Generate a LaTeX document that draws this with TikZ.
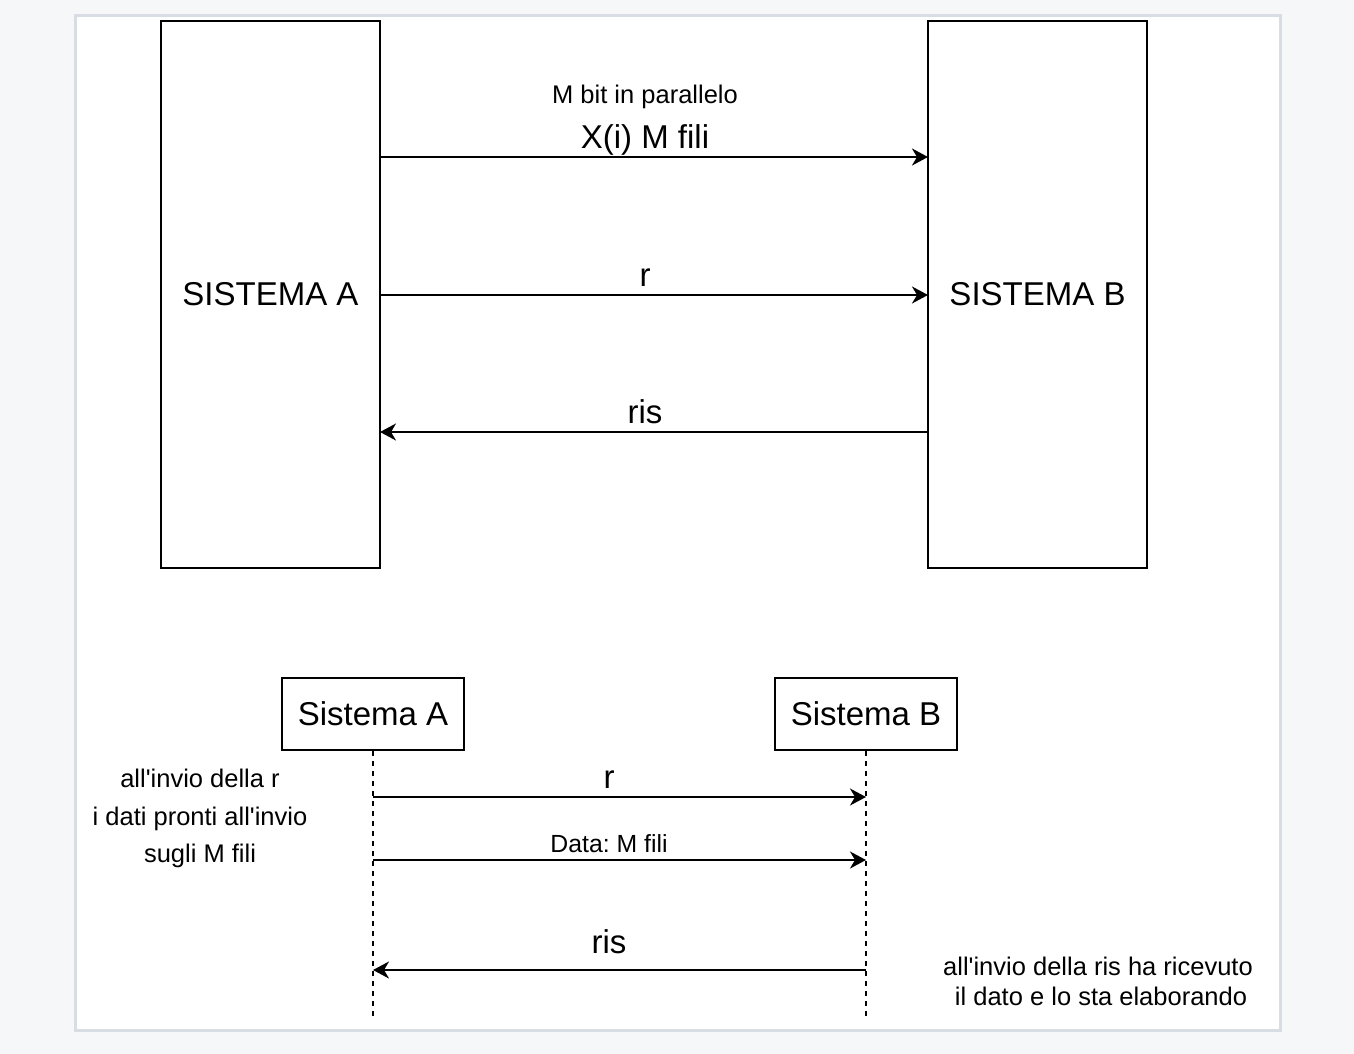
\documentclass[tikz,border=0pt]{standalone}
\usepackage{fontspec}
\setmainfont{Liberation Sans}
\frenchspacing
\usetikzlibrary{arrows.meta}
\definecolor{pagebg}{HTML}{F5F7F9}
\definecolor{panelborder}{HTML}{D8DDE3}
\newcommand{\apo}{\textquotesingle}
\tikzset{
  sysbox/.style={draw=black, line width=2pt, fill=white, inner sep=0pt},
  conn/.style={line width=2pt, -{Stealth[length=16pt,width=17pt,inset=5pt]}},
  lifeline/.style={line width=1.5pt, dash pattern=on 5pt off 5pt},
  bigtxt/.style={font=\fontsize{33}{37}\selectfont, inner sep=0pt, anchor=base},
  smalltxt/.style={font=\fontsize{25.5}{30}\selectfont, inner sep=0pt, anchor=base},
  datatxt/.style={font=\fontsize{24.8}{28}\selectfont, inner sep=0pt, anchor=base},
}
\begin{document}
\begin{tikzpicture}[x=1pt,y=-1pt]
\useasboundingbox (0,0) rectangle (1354,1054);
\fill[pagebg] (0,0) rectangle (1354,1054);
\draw[panelborder, line width=3pt, fill=white] (75.5,15.5) rectangle (1280.5,1030.5);

% top boxes
\node[sysbox, minimum width=219pt, minimum height=547pt] (A) at (270.5,294.5) {};
\node[sysbox, minimum width=219pt, minimum height=547pt] (B) at (1037.5,294.5) {};
\node[bigtxt] (Atxt) at (270.5,305) {SISTEMA A};
\node[bigtxt] (Btxt) at (1037.5,305) {SISTEMA B};

\coordinate (a1) at (380,157);
\coordinate (b1) at (928,157);
\coordinate (a2) at (380,295);
\coordinate (b2) at (928,295);
\coordinate (a3) at (380,432);
\coordinate (b3) at (928,432);
\draw[conn] (a1) -- (b1);
\draw[conn] (a2) -- (b2);
\draw[conn] (b3) -- (a3);

\node[smalltxt] (lbl1) at (645,104) {M bit in parallelo};
\node[bigtxt] (lbl2) at (645,149) {X(i) M fili};
\node[bigtxt] (lbl3) at (645,286) {r};
\node[bigtxt] (lbl4) at (645,423) {ris};

% bottom sequence diagram
\node[sysbox, minimum width=182pt, minimum height=72pt] (SA) at (373,714) {};
\node[sysbox, minimum width=182pt, minimum height=72pt] (SB) at (866,714) {};
\node[bigtxt] (SAtxt) at (373,725) {Sistema A};
\node[bigtxt] (SBtxt) at (866,725) {Sistema B};

\coordinate (LA) at (373,1016);
\coordinate (LB) at (866,1020);
\draw[lifeline] (SA.south) -- (LA);
\draw[lifeline] (SB.south) -- (LB);

\coordinate (sa1) at (373,797);
\coordinate (sb1) at (866,797);
\coordinate (sa2) at (373,860);
\coordinate (sb2) at (866,860);
\coordinate (sa3) at (373,970);
\coordinate (sb3) at (866,970);
\draw[conn] (sa1) -- (sb1);
\draw[conn] (sa2) -- (sb2);
\draw[conn] (sb3) -- (sa3);

\node[bigtxt] (m1) at (609,788) {r};
\node[datatxt] (m2) at (609,852) {Data: M fili};
\node[bigtxt] (m3) at (609,953) {ris};

\node[smalltxt] (n1) at (200,787) {all\apo invio della r};
\node[smalltxt] (n2) at (200,825) {i dati pronti all\apo invio};
\node[smalltxt] (n3) at (200,862) {sugli M fili};

\node[smalltxt] (n4) at (1098,975) {all\apo invio della ris ha ricevuto};
\node[smalltxt] (n5) at (1101,1005) {il dato e lo sta elaborando};
\end{tikzpicture}
\end{document}
